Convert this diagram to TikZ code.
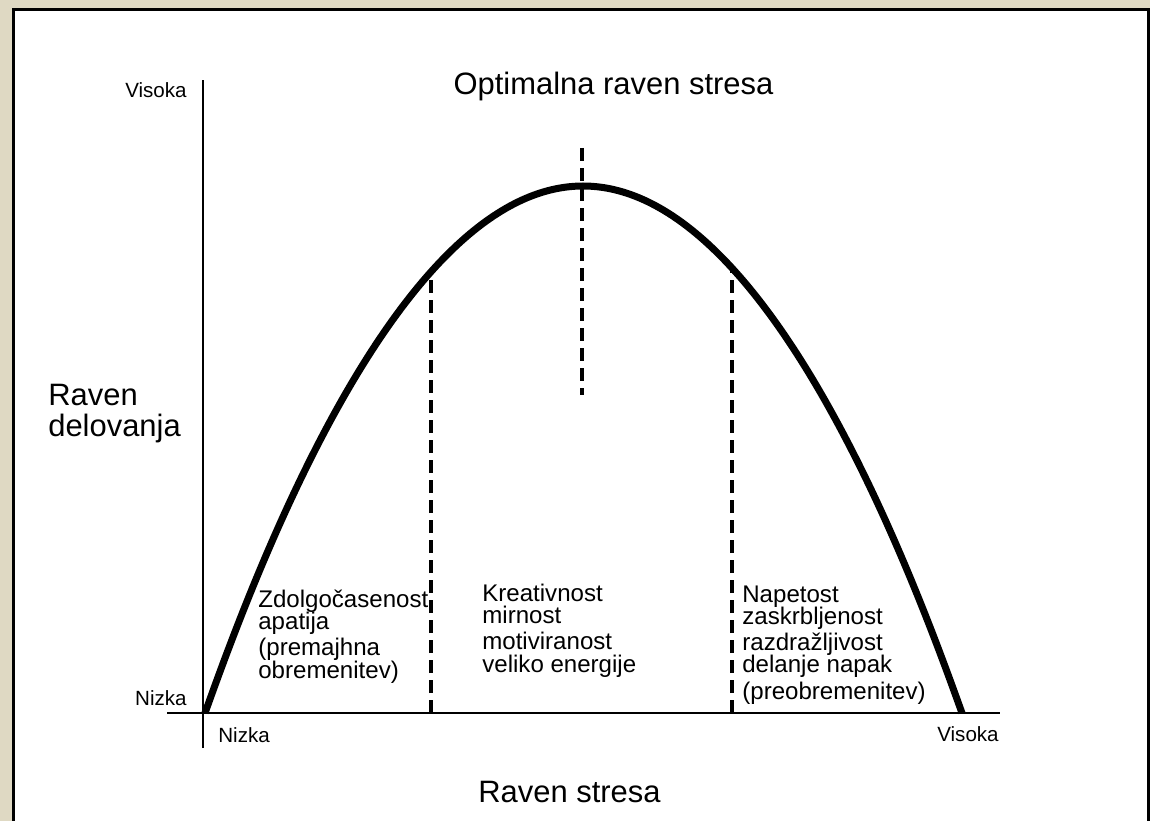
\documentclass[tikz,border=0pt]{standalone}
\usepackage{fontspec}
\setmainfont{Liberation Sans}
\usetikzlibrary{positioning}
\definecolor{pagebeige}{RGB}{223,217,195}
\setlength{\lineskiplimit}{-20pt}
\tikzset{%
	axis/.style    = {line width=0.55mm},
	curve/.style   = {line width=1.4mm},
	limit/.style   = {line width=0.85mm, dash pattern=on 2.6mm off 1.4mm},
	tick/.style    = {inner sep=0pt, font=\fontsize{11.7}{14}\selectfont},
	zone/.style    = {inner sep=0pt, align=left, font=\fontsize{13.7}{12.8}\selectfont},
	heading/.style = {inner sep=0pt, font=\fontsize{17.6}{17.1}\selectfont},
}

\begin{document}
\begin{tikzpicture}[x=0.2mm,y=-0.2mm]
	\useasboundingbox (0,0) rectangle (1150,821);
	% frame
	\fill[pagebeige] (0,0) rectangle (1150,821);
	\filldraw[fill=white,line width=0.5mm] (13.5,821) -- (13.5,9.5) -- (1148.5,9.5) -- (1148.5,821);
	
	% axes
	\coordinate (ytop) at (203,80);
	\coordinate (ybot) at (203,748);
	\coordinate (xleft) at (167,713);
	\coordinate (xright) at (1000,713);
	\draw[axis] (ybot) -- (ytop);
	\draw[axis] (xleft) -- (xright);
	
	% stress curve
	\coordinate (lo) at (205,713);
	\coordinate (top) at (583,186);
	\coordinate (hi) at (962,713);
	\draw[curve] (lo) parabola bend (top) (hi);
	
	% zone limits
	\coordinate (leftbot) at (431,713);
	\coordinate (lefttop) at (431,277);
	\coordinate (rightbot) at (732,713);
	\coordinate (righttop) at (732,270);
	\coordinate (midtop) at (582,148);
	\coordinate (midbot) at (582,395);
	\draw[limit] (leftbot) -- (lefttop);
	\draw[limit] (rightbot) -- (righttop);
	\draw[limit] (midtop) -- (midbot);
	
	% labels
	\node[heading, anchor=base] (title) at (613.5,95) {Optimalna raven stresa};
	\node[heading, anchor=base] (xlabel) at (569.5,802) {Raven stresa};
	\node[heading, align=left, anchor=base west] (ylabel) at (48,436) {Raven\\delovanja};
	
	\node[tick, anchor=base east] (yhigh) at (187,98) {Visoka};
	\node[tick, anchor=base east] (ylow) at (187,705) {Nizka};
	\node[tick, anchor=base west] (xlow) at (218,742) {Nizka};
	\node[tick, anchor=base east] (xhigh) at (999,741) {Visoka};
	
	\node[zone, anchor=base west] (bored) at (258,678) {Zdolgočasenost\\apatija\\[2pt](premajhna\\obremenitev)};
	\node[zone, anchor=base west] (calm) at (482,672) {Kreativnost\\mirnost\\[2pt]motiviranost\\veliko energije};
	\node[zone, anchor=base west] (tense) at (742,699) {Napetost\\zaskrbljenost\\[2pt]razdražljivost\\delanje napak\\[2pt](preobremenitev)};
\end{tikzpicture}
\end{document}
